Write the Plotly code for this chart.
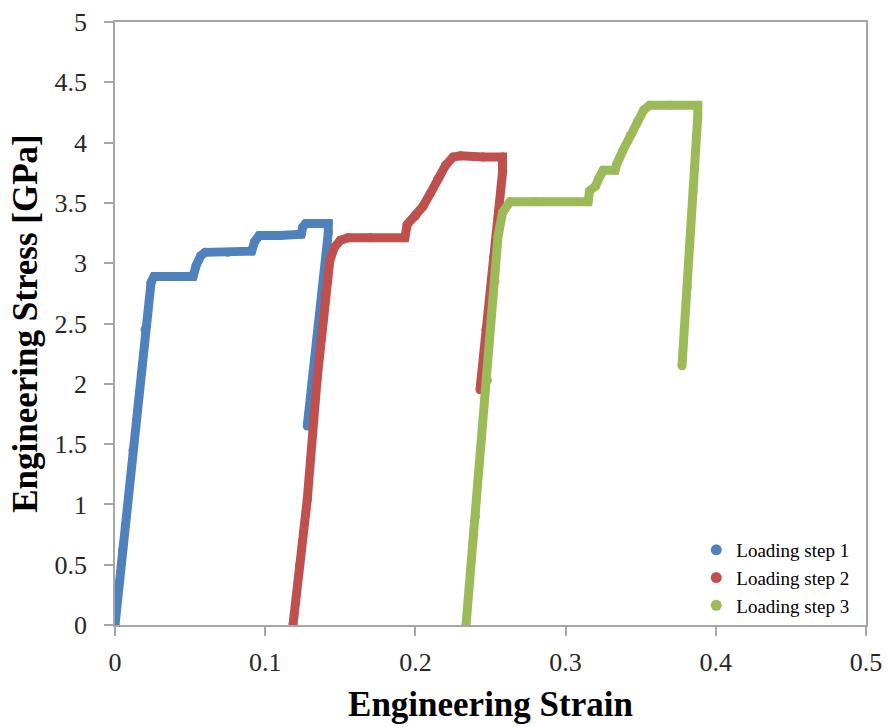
import plotly.graph_objects as go

# Engineering strain / stress [GPa] for the three loading steps
step1_strain = [0.0, 0.005, 0.012, 0.020, 0.024, 0.026, 0.040, 0.052, 0.054, 0.057, 0.060,
                0.075, 0.091, 0.093, 0.096, 0.110, 0.124, 0.125, 0.127, 0.135, 0.142,
                0.142, 0.137, 0.132, 0.128]
step1_stress = [0.0, 0.62, 1.45, 2.45, 2.84, 2.89, 2.89, 2.89, 2.98, 3.06, 3.09,
                3.09, 3.10, 3.18, 3.23, 3.23, 3.24, 3.30, 3.33, 3.33, 3.33,
                3.25, 2.65, 2.10, 1.65]

step2_strain = [0.1185, 0.1230, 0.1280, 0.1345, 0.1400, 0.1430, 0.1460, 0.1500, 0.1550,
                0.1700, 0.1930, 0.1945, 0.2000, 0.2050, 0.2100, 0.2150, 0.2200, 0.2250,
                0.2300, 0.2450, 0.2580, 0.2580, 0.2520, 0.2470, 0.2430]
step2_stress = [0.0, 0.50, 1.04, 2.03, 2.75, 3.02, 3.13, 3.19, 3.21,
                3.21, 3.21, 3.32, 3.39, 3.47, 3.58, 3.70, 3.81, 3.88,
                3.89, 3.88, 3.88, 3.75, 3.05, 2.45, 1.95]

step3_strain = [0.2337, 0.2400, 0.2480, 0.2530, 0.2550, 0.2580, 0.2630, 0.2800, 0.3150,
                0.3160, 0.3200, 0.3220, 0.3250, 0.3330, 0.3340, 0.3380, 0.3430, 0.3480,
                0.3520, 0.3560, 0.3700, 0.3880, 0.3880, 0.3850, 0.3810, 0.3775]
step3_stress = [0.0, 0.90, 2.03, 2.85, 3.22, 3.42, 3.51, 3.51, 3.51,
                3.60, 3.64, 3.70, 3.77, 3.77, 3.82, 3.93, 4.06, 4.18,
                4.27, 4.31, 4.31, 4.31, 4.22, 3.60, 2.80, 2.15]

series_names = ["Loading step 1", "Loading step 2", "Loading step 3"]
series_colors = ["#4F81BD", "#C0504D", "#9BBB59"]
series_data = [(step1_strain, step1_stress), (step2_strain, step2_stress),
               (step3_strain, step3_stress)]

x_ticks = [0, 0.1, 0.2, 0.3, 0.4, 0.5]
x_tick_text = ["0", "0.1", "0.2", "0.3", "0.4", "0.5"]
y_ticks = [0, 0.5, 1, 1.5, 2, 2.5, 3, 3.5, 4, 4.5, 5]
y_tick_text = ["0", "0.5", "1", "1.5", "2", "2.5", "3", "3.5", "4", "4.5", "5"]

serif = "Liberation Serif, Times New Roman, serif"

fig = go.Figure()

# dense thick curves for each loading step
for name, color, (xs, ys) in zip(series_names, series_colors, series_data):
    fig.add_trace(go.Scatter(
        x=xs, y=ys, mode="lines+markers", name=name, showlegend=False,
        line=dict(color=color, width=9),
        marker=dict(color=color, size=9),
        hoverinfo="x+y",
    ))

# legend entries shown as round markers
for name, color in zip(series_names, series_colors):
    fig.add_trace(go.Scatter(
        x=[None], y=[None], mode="markers", name=name,
        marker=dict(color=color, size=11),
    ))

axis_common = dict(
    showgrid=False, zeroline=False, showline=True, mirror=True,
    linecolor="#a6a6a6", linewidth=1.5, automargin=False,
    ticks="outside", ticklen=9, tickcolor="#a6a6a6", tickwidth=1.5,
    tickfont=dict(family=serif, size=26, color="#262626"),
)

fig.update_layout(
    width=889, height=727,
    margin=dict(l=115, r=23, t=22, b=102),
    paper_bgcolor="white", plot_bgcolor="white",
    xaxis=dict(range=[0, 0.5], tickvals=x_ticks, ticktext=x_tick_text,
               ticklabelstandoff=4,
               title=dict(text="<b>Engineering Strain</b>", standoff=16,
                          font=dict(family=serif, size=35, color="black")),
               **axis_common),
    yaxis=dict(range=[0, 5], tickvals=y_ticks, ticktext=y_tick_text,
               ticklabelstandoff=12,
               title=dict(text="<b>Engineering Stress [GPa]</b>", standoff=6,
                          font=dict(family=serif, size=35, color="black")),
               **axis_common),
    legend=dict(x=0.774, y=0.0, xanchor="left", yanchor="bottom",
                bgcolor="rgba(0,0,0,0)", tracegroupgap=0,
                font=dict(family=serif, size=19, color="black")),
    showlegend=True,
)

fig.write_html("out.html")
